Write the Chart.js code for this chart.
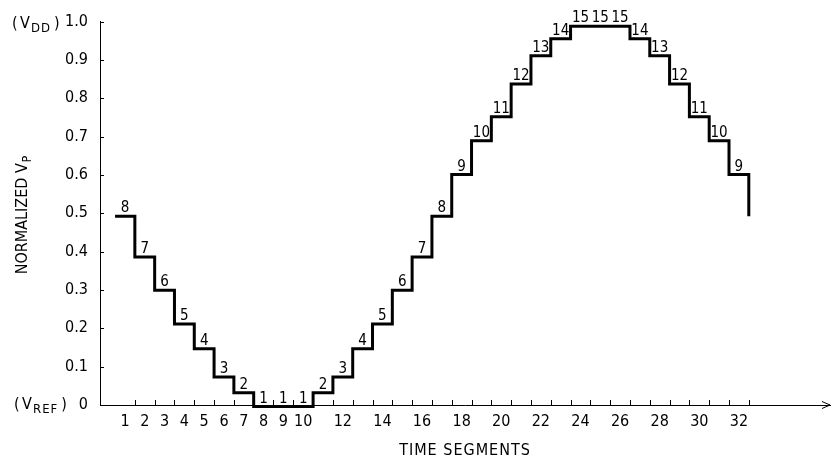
<!DOCTYPE html>
<html>
<head>
<meta charset="utf-8">
<script src="https://cdn.jsdelivr.net/npm/chart.js@4/dist/chart.umd.min.js"></script>
<style>
  html, body { margin: 0; padding: 0; background: #fff; }
  #wrap { position: relative; width: 838px; height: 460px; }
</style>
</head>
<body>
<div id="wrap"><canvas id="c" width="838" height="460"></canvas></div>
<script>
// ---- data ----
const segments = [1,2,3,4,5,6,7,8,9,10,11,12,13,14,15,16,17,18,19,20,21,22,23,24,25,26,27,28,29,30,31,32];
const codes = [8,7,6,5,4,3,2,1,1,1,2,3,4,5,6,7,8,9,10,11,12,13,14,15,15,15,14,13,12,11,10,9];
// normalized level for codes 1..15
const codeLevels = [-0.004, 0.032, 0.073, 0.147, 0.211, 0.299, 0.386, 0.492, 0.601, 0.689, 0.752, 0.837, 0.911, 0.955, 0.988];
const finalLevel = 0.492;
const xTickLabels = [1,2,3,4,5,6,7,8,9,10,12,14,16,18,20,22,24,26,28,30,32];
const yTickLabels = ['0','0.1','0.2','0.3','0.4','0.5','0.6','0.7','0.8','0.9','1.0'];
const xTitle = 'TIME SEGMENTS';
const yTitle = 'NORMALIZED V';
const yTitleSub = 'P';

const FONT = "'DejaVu Sans Condensed', 'Liberation Sans Narrow', 'Liberation Sans', sans-serif";

// step points: each segment's level starts at its left boundary
const points = segments.map((s, i) => ({ x: s - 0.5, y: codeLevels[codes[i] - 1] }));
points.push({ x: segments[segments.length - 1] + 0.5, y: finalLevel });

const annot = {
  id: 'annot',
  afterDraw(chart) {
    const ctx = chart.ctx;
    const xs = chart.scales.x, ys = chart.scales.y;
    const ca = chart.chartArea;
    ctx.save();
    ctx.fillStyle = '#000';
    ctx.strokeStyle = '#000';
    // code labels above each step
    ctx.font = '15px ' + FONT;
    ctx.textAlign = 'center';
    ctx.textBaseline = 'alphabetic';
    segments.forEach((s, i) => {
      const px = xs.getPixelForValue(s);
      const py = ys.getPixelForValue(codeLevels[codes[i] - 1]);
      ctx.fillText(String(codes[i]), px, py - 4);
    });
    // inward y ticks
    ctx.lineWidth = 1;
    yTickLabels.forEach(t => {
      const py = Math.round(ys.getPixelForValue(parseFloat(t))) + 0.5;
      ctx.beginPath(); ctx.moveTo(ca.left, py); ctx.lineTo(ca.left + 4, py); ctx.stroke();
    });
    // x ticks at segment boundaries
    const y0 = ys.getPixelForValue(0);
    segments.forEach(s => {
      const px = Math.round(xs.getPixelForValue(s + 0.5)) + 0.5;
      ctx.beginPath(); ctx.moveTo(px, y0); ctx.lineTo(px, y0 - 5); ctx.stroke();
    });
    // arrow head at end of time axis
    ctx.beginPath();
    ctx.moveTo(ca.right - 8, y0 - 3.5);
    ctx.lineTo(ca.right, y0);
    ctx.lineTo(ca.right - 8, y0 + 3.5);
    ctx.stroke();
    // x title
    ctx.font = '16px ' + FONT;
    ctx.textAlign = 'center';
    ctx.textBaseline = 'middle';
    if ('letterSpacing' in ctx) ctx.letterSpacing = '1px';
    ctx.fillText(xTitle, 465, 451);
    if ('letterSpacing' in ctx) ctx.letterSpacing = '0px';
    // (VDD) and (VREF)
    function subLabel(x, y, sub) {
      ctx.textAlign = 'left';
      ctx.textBaseline = 'alphabetic';
      ctx.font = '16px ' + FONT;
      ctx.fillText('(', x, y);
      ctx.fillText('V', x + 8, y);
      ctx.font = '13px ' + FONT;
      const sx = x + 8 + 11;
      if ('letterSpacing' in ctx) ctx.letterSpacing = '1px';
      ctx.fillText(sub, sx, y + 4);
      const sw = ctx.measureText(sub).width;
      if ('letterSpacing' in ctx) ctx.letterSpacing = '0px';
      ctx.font = '16px ' + FONT;
      ctx.fillText(')', sx + sw + 3, y);
    }
    subLabel(12, ys.getPixelForValue(1) + 6, 'DD');
    subLabel(14, ys.getPixelForValue(0) + 4, 'REF');
    // rotated y title
    ctx.save();
    ctx.translate(27, 215);
    ctx.rotate(-Math.PI / 2);
    ctx.font = '16px ' + FONT;
    const w1 = ctx.measureText(yTitle).width;
    ctx.font = '12px ' + FONT;
    const w2 = ctx.measureText(yTitleSub).width;
    const start = -(w1 + w2 + 1) / 2;
    ctx.textAlign = 'left';
    ctx.textBaseline = 'alphabetic';
    ctx.font = '16px ' + FONT;
    ctx.fillText(yTitle, start, 0);
    ctx.font = '12px ' + FONT;
    ctx.fillText(yTitleSub, start + w1 + 1, 4);
    ctx.restore();
    ctx.restore();
  }
};

new Chart(document.getElementById('c'), {
  type: 'line',
  data: {
    datasets: [{
      data: points,
      stepped: 'before',
      borderColor: '#000',
      borderWidth: 3,
      pointRadius: 0,
      fill: false,
      clip: false,
      borderCapStyle: 'butt',
      borderJoinStyle: 'miter'
    }]
  },
  options: {
    responsive: false,
    animation: false,
    events: [],
    layout: { padding: { top: 15, right: 8, left: 0, bottom: 0 } },
    plugins: { legend: { display: false }, tooltip: { enabled: false }, title: { display: false } },
    scales: {
      x: {
        type: 'linear',
        min: -0.26,
        max: 36.6,
        afterBuildTicks(scale) { scale.ticks = xTickLabels.map(v => ({ value: v })); },
        afterFit(scale) { scale.height = 55; },
        grid: { display: false, drawTicks: false },
        border: { display: true, color: '#000', width: 1 },
        ticks: {
          autoSkip: false, maxRotation: 0, padding: 7,
          color: '#000', font: { family: FONT, size: 16 },
          callback: v => String(v)
        }
      },
      y: {
        type: 'linear',
        min: 0,
        max: 1,
        afterBuildTicks(scale) { scale.ticks = yTickLabels.map(t => ({ value: parseFloat(t) })); },
        afterFit(scale) { scale.width = 100; },
        grid: { display: false, drawTicks: false },
        border: { display: true, color: '#000', width: 1 },
        ticks: {
          autoSkip: false, padding: 12,
          color: '#000', font: { family: FONT, size: 16 },
          callback: (v, i) => yTickLabels[i]
        }
      }
    }
  },
  plugins: [annot]
});
</script>
</body>
</html>
